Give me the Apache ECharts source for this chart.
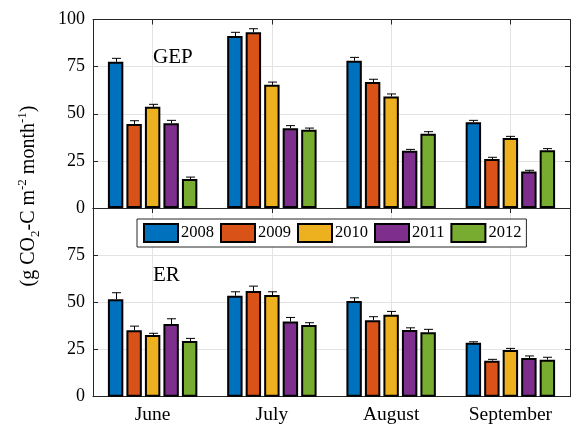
<!DOCTYPE html>
<html><head><meta charset="utf-8">
<script src="https://cdn.jsdelivr.net/npm/echarts@6/dist/echarts.min.js"></script>
<style>html,body{margin:0;padding:0;background:#fff}#c{width:573px;height:425px}</style>
</head><body><div id="c"></div>
<script>
var months = ['June', 'July', 'August', 'September'];
var years = ['2008', '2009', '2010', '2011', '2012'];
var colors = ['#0072BD', '#D95319', '#EDB120', '#7E2F8E', '#77AC30'];
var yTicks = [0, 25, 50, 75, 100];

// GEP values per year (June..September) and error (upper)
var gep2008 = [77.6, 91.2, 78.1, 45.5];
var gep2009 = [44.6, 93.2, 66.8, 26.0];
var gep2010 = [53.7, 65.4, 59.2, 37.1];
var gep2011 = [45.0, 42.3, 30.4, 19.3];
var gep2012 = [15.4, 41.5, 39.4, 30.6];
var gepErr2008 = [1.8, 2.0, 1.8, 1.0];
var gepErr2009 = [1.7, 1.9, 1.5, 0.9];
var gepErr2010 = [1.3, 1.4, 1.3, 0.9];
var gepErr2011 = [1.5, 1.4, 0.7, 0.7];
var gepErr2012 = [1.0, 0.9, 1.1, 0.9];

// ER values
var er2008 = [51.7, 53.5, 50.7, 28.6];
var er2009 = [35.2, 56.0, 40.5, 19.1];
var er2010 = [32.7, 53.9, 43.4, 24.7];
var er2011 = [38.5, 39.9, 35.3, 20.5];
var er2012 = [29.5, 38.0, 34.1, 19.6];
var erErr2008 = [3.4, 2.1, 1.7, 0.5];
var erErr2009 = [2.2, 2.6, 1.9, 0.7];
var erErr2010 = [0.9, 1.7, 1.8, 0.9];
var erErr2011 = [2.8, 2.1, 1.2, 1.1];
var erErr2012 = [1.4, 1.2, 1.6, 1.3];

var gepVals = [gep2008, gep2009, gep2010, gep2011, gep2012];
var gepErrs = [gepErr2008, gepErr2009, gepErr2010, gepErr2011, gepErr2012];
var erVals = [er2008, er2009, er2010, er2011, er2012];
var erErrs = [erErr2008, erErr2009, erErr2010, erErr2011, erErr2012];

var CAT_GAP = 0.25, BAR_GAP = 0.2, N = 5;
var FONT = '"Liberation Serif", "DejaVu Serif", serif';
var AX = '#262626';

function renderErr(params, api) {
  var cat = api.value(0), si = api.value(1), v = api.value(2), e = api.value(3);
  var band = api.size([1, 0])[0];
  var total = band * (1 - CAT_GAP);
  var w = total / (N + (N - 1) * BAR_GAP);
  var off = -total / 2 + w / 2 + si * w * (1 + BAR_GAP);
  var p0 = api.coord([cat, v]);
  var p1 = api.coord([cat, v + e]);
  var x = Math.round(p0[0] + off) + 0.5;
  return {
    type: 'group', children: [
      { type: 'line', shape: { x1: x, y1: p0[1], x2: x, y2: p1[1] }, style: { stroke: '#000', lineWidth: 1 } },
      { type: 'line', shape: { x1: x - 4.5, y1: p1[1], x2: x + 4.5, y2: p1[1] }, style: { stroke: '#000', lineWidth: 1 } }
    ]
  };
}

function errData(vals, errs) {
  var d = [];
  for (var s = 0; s < vals.length; s++)
    for (var c = 0; c < vals[s].length; c++)
      d.push([c, s, vals[s][c], errs[s][c]]);
  return d;
}

var series = [];
[gepVals, erVals].forEach(function (vals, g) {
  vals.forEach(function (arr, s) {
    series.push({
      type: 'bar', name: years[s], xAxisIndex: g * 2, yAxisIndex: g * 2,
      data: arr, barCategoryGap: '25%', barGap: '20%',
      itemStyle: { color: colors[s], borderColor: '#000', borderWidth: 2 },
      emphasis: { disabled: true }, z: 3
    });
  });
});
series.push({ type: 'custom', xAxisIndex: 0, yAxisIndex: 0, renderItem: renderErr, data: errData(gepVals, gepErrs), z: 4, encode: { x: 0, y: 2 } });
series.push({ type: 'custom', xAxisIndex: 2, yAxisIndex: 2, renderItem: renderErr, data: errData(erVals, erErrs), z: 4, encode: { x: 0, y: 2 } });

function xAx(grid, pos, showLabel, main) {
  return {
    type: 'category', data: months, gridIndex: grid, position: pos,
    axisLine: { show: true, onZero: false, lineStyle: { color: AX, width: 1 } },
    axisTick: { show: true, inside: true, alignWithLabel: true, length: 5, lineStyle: { color: AX } },
    axisLabel: { show: showLabel, fontFamily: FONT, fontSize: 19.5, color: '#000', margin: 8 },
    splitLine: { show: main, alignWithLabel: true, lineStyle: { color: '#e3e3e3', width: 1 } }
  };
}
function yAx(grid, pos, showLabel, main, hideTop) {
  return {
    type: 'value', gridIndex: grid, position: pos, min: 0, max: 100, interval: 25,
    axisLine: { show: true, lineStyle: { color: AX, width: 1 } },
    axisTick: { show: true, inside: true, length: 5, lineStyle: { color: AX } },
    axisLabel: {
      show: showLabel, fontFamily: FONT, fontSize: 18, color: '#000', margin: 8,
      formatter: function (v) { return (hideTop && v === 100) ? '' : String(v); }
    },
    splitLine: { show: main, lineStyle: { color: '#e3e3e3', width: 1 } }
  };
}

var option = {
  animation: false,
  backgroundColor: '#fff',
  grid: [
    { left: 93, top: 19.5, width: 477, height: 188.5 },
    { left: 93, top: 208, width: 477, height: 188.7 }
  ],
  xAxis: [xAx(0, 'bottom', false, true), xAx(0, 'top', false, false), xAx(1, 'bottom', true, true), xAx(1, 'top', false, false)],
  yAxis: [yAx(0, 'left', true, true, false), yAx(0, 'right', false, false, false), yAx(1, 'left', true, true, true), yAx(1, 'right', false, false, false)],
  legend: {
    data: years, left: 137, top: 219, orient: 'horizontal',
    itemWidth: 34, itemHeight: 18, itemGap: 6, padding: [4, 5, 4, 6],
    backgroundColor: '#fff', borderColor: AX, borderWidth: 1, borderRadius: 0,
    icon: 'rect', selectedMode: false,
    textStyle: { fontFamily: FONT, fontSize: 16.5, color: '#000', padding: [0, 0, 0, -2] }
  },
  graphic: [
    { type: 'text', x: 153, y: 57, style: { text: 'GEP', font: '21px ' + FONT, fill: '#000', verticalAlign: 'middle' } },
    { type: 'text', x: 153, y: 275, style: { text: 'ER', font: '21px ' + FONT, fill: '#000', verticalAlign: 'middle' } },
    {
      type: 'text', x: 29, y: 196, rotation: Math.PI / 2,
      style: {
        text: '{a|(g CO}{s|2}{a|-C m}{p|-2}{a| month}{p|-1}{a|)}',
        align: 'center', verticalAlign: 'middle',
        rich: {
          a: { fontFamily: FONT, fontSize: 20, color: '#000', lineHeight: 26, verticalAlign: 'middle' },
          s: { fontFamily: FONT, fontSize: 13, color: '#000', lineHeight: 26, verticalAlign: 'bottom', padding: [11, 0, 0, 0] },
          p: { fontFamily: FONT, fontSize: 13, color: '#000', lineHeight: 26, verticalAlign: 'top', padding: [0, 0, 9, 0] }
        }
      }
    }
  ],
  series: series
};
var chart = echarts.init(document.getElementById('c'), null, { renderer: 'canvas' });
chart.setOption(option);
</script></body></html>
